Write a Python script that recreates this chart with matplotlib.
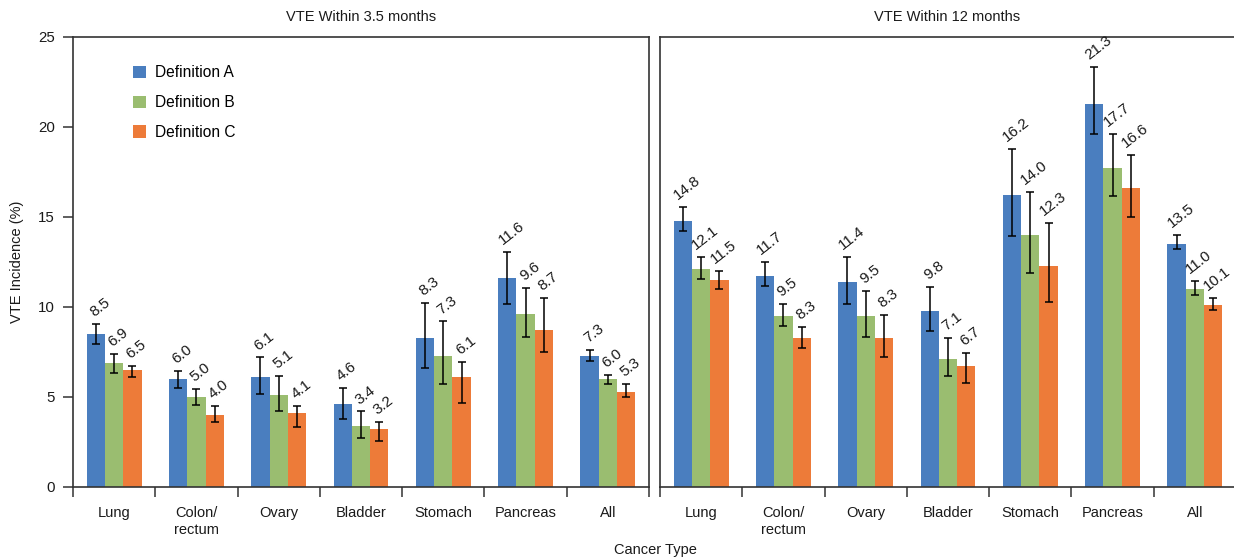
import numpy as np
import matplotlib
matplotlib.use("Agg")
import matplotlib.pyplot as plt
from matplotlib.ticker import FixedLocator

plt.rcParams['font.family'] = ['Liberation Sans', 'DejaVu Sans']

cancers = ['Lung', 'Colon/\nrectum', 'Ovary', 'Bladder', 'Stomach', 'Pancreas', 'All']
definitions = ['Definition A', 'Definition B', 'Definition C']
colors = ['#4a7ebf', '#9abd70', '#ed7b39']

# VTE within 3.5 months: point estimate, lower and upper CI per definition
short_val = [[8.5, 6.0, 6.1, 4.6, 8.3, 11.6, 7.3],
             [6.9, 5.0, 5.1, 3.4, 7.3, 9.6, 6.0],
             [6.5, 4.0, 4.1, 3.2, 6.1, 8.7, 5.3]]
short_lo = [[7.95, 5.5, 5.15, 3.8, 6.6, 10.15, 7.0],
            [6.35, 4.55, 4.2, 2.7, 5.75, 8.35, 5.7],
            [6.1, 3.6, 3.35, 2.55, 4.65, 7.5, 5.0]]
short_hi = [[9.05, 6.45, 7.2, 5.5, 10.25, 13.05, 7.6],
            [7.4, 5.45, 6.15, 4.2, 9.2, 11.05, 6.25],
            [6.75, 4.5, 4.5, 3.6, 6.95, 10.5, 5.75]]

# VTE within 12 months
long_val = [[14.8, 11.7, 11.4, 9.8, 16.2, 21.3, 13.5],
            [12.1, 9.5, 9.5, 7.1, 14.0, 17.7, 11.0],
            [11.5, 8.3, 8.3, 6.7, 12.3, 16.6, 10.1]]
long_lo = [[14.2, 11.15, 10.15, 8.65, 13.95, 19.6, 13.2],
           [11.55, 8.95, 8.35, 6.15, 11.9, 16.15, 10.65],
           [11.0, 7.75, 7.2, 5.8, 10.3, 15.0, 9.85]]
long_hi = [[15.55, 12.5, 12.8, 11.1, 18.8, 23.35, 14.0],
           [12.8, 10.15, 10.9, 8.3, 16.4, 19.6, 11.45],
           [12.0, 8.9, 9.55, 7.45, 14.65, 18.45, 10.5]]

fig = plt.figure(figsize=(12.34, 5.6), dpi=100)
ax1 = fig.add_axes([73 / 1234, 73 / 560, 576 / 1234, 450 / 560])
ax2 = fig.add_axes([660 / 1234, 73 / 560, 576 / 1234, 450 / 560])

width = 0.222
x = np.arange(len(cancers))


def draw_panel(ax, vals, lo, hi, show_y):
    for i in range(3):
        v = np.array(vals[i])
        err = np.array([v - np.array(lo[i]), np.array(hi[i]) - v])
        pos = x + (i - 1) * width
        ax.bar(pos, v, width, color=colors[i], label=definitions[i], zorder=2)
        ax.errorbar(pos, v, yerr=err, fmt='none', ecolor='black',
                    elinewidth=1.1, capsize=3, capthick=1.1, zorder=3)
        for px, val, top in zip(pos, v, hi[i]):
            ax.text(px + 0.05, top + 0.25, f'{val:.1f}', rotation=38,
                    ha='center', va='bottom', fontsize=11, color='#1a1a1a')
    ax.set_xlim(-0.5, len(cancers) - 0.5)
    ax.set_ylim(0, 25)
    ax.set_xticks(x)
    ax.set_xticklabels(cancers, fontsize=10.5, color='#1a1a1a')
    ax.xaxis.set_minor_locator(FixedLocator(np.arange(len(cancers) + 1) - 0.5))
    ax.tick_params(axis='x', which='major', length=0, pad=14)
    ax.tick_params(axis='x', which='minor', length=7, width=1.1,
                   direction='out', color='#333333')
    for s in ax.spines.values():
        s.set_linewidth(1.2)
        s.set_color('#333333')
    if show_y:
        ax.set_yticks(range(0, 26, 5))
        ax.tick_params(axis='y', length=7, width=1.1, pad=6,
                       labelsize=10.8, color='#333333', labelcolor='#1a1a1a')
    else:
        ax.set_yticks([])


draw_panel(ax1, short_val, short_lo, short_hi, True)
draw_panel(ax2, long_val, long_lo, long_hi, False)

ax1.legend(loc='upper left', bbox_to_anchor=(0.08, 0.968), frameon=False,
           fontsize=11.2, handlelength=0.85, handleheight=0.85,
           handletextpad=0.55, labelspacing=0.95)

fig.text(361 / 1234, 1 - 17 / 560, 'VTE Within 3.5 months', ha='center',
         va='center', fontsize=10.5, color='#1a1a1a')
fig.text(947 / 1234, 1 - 17 / 560, 'VTE Within 12 months', ha='center',
         va='center', fontsize=10.5, color='#1a1a1a')
fig.text(655 / 1234, 1 - 550 / 560, 'Cancer Type', ha='center',
         va='center', fontsize=10.5, color='#1a1a1a')
fig.text(17 / 1234, 1 - 262 / 560, 'VTE Incidence (%)', ha='center',
         va='center', rotation=90, fontsize=10.5, color='#1a1a1a')

fig.savefig('out.png', dpi=100)
